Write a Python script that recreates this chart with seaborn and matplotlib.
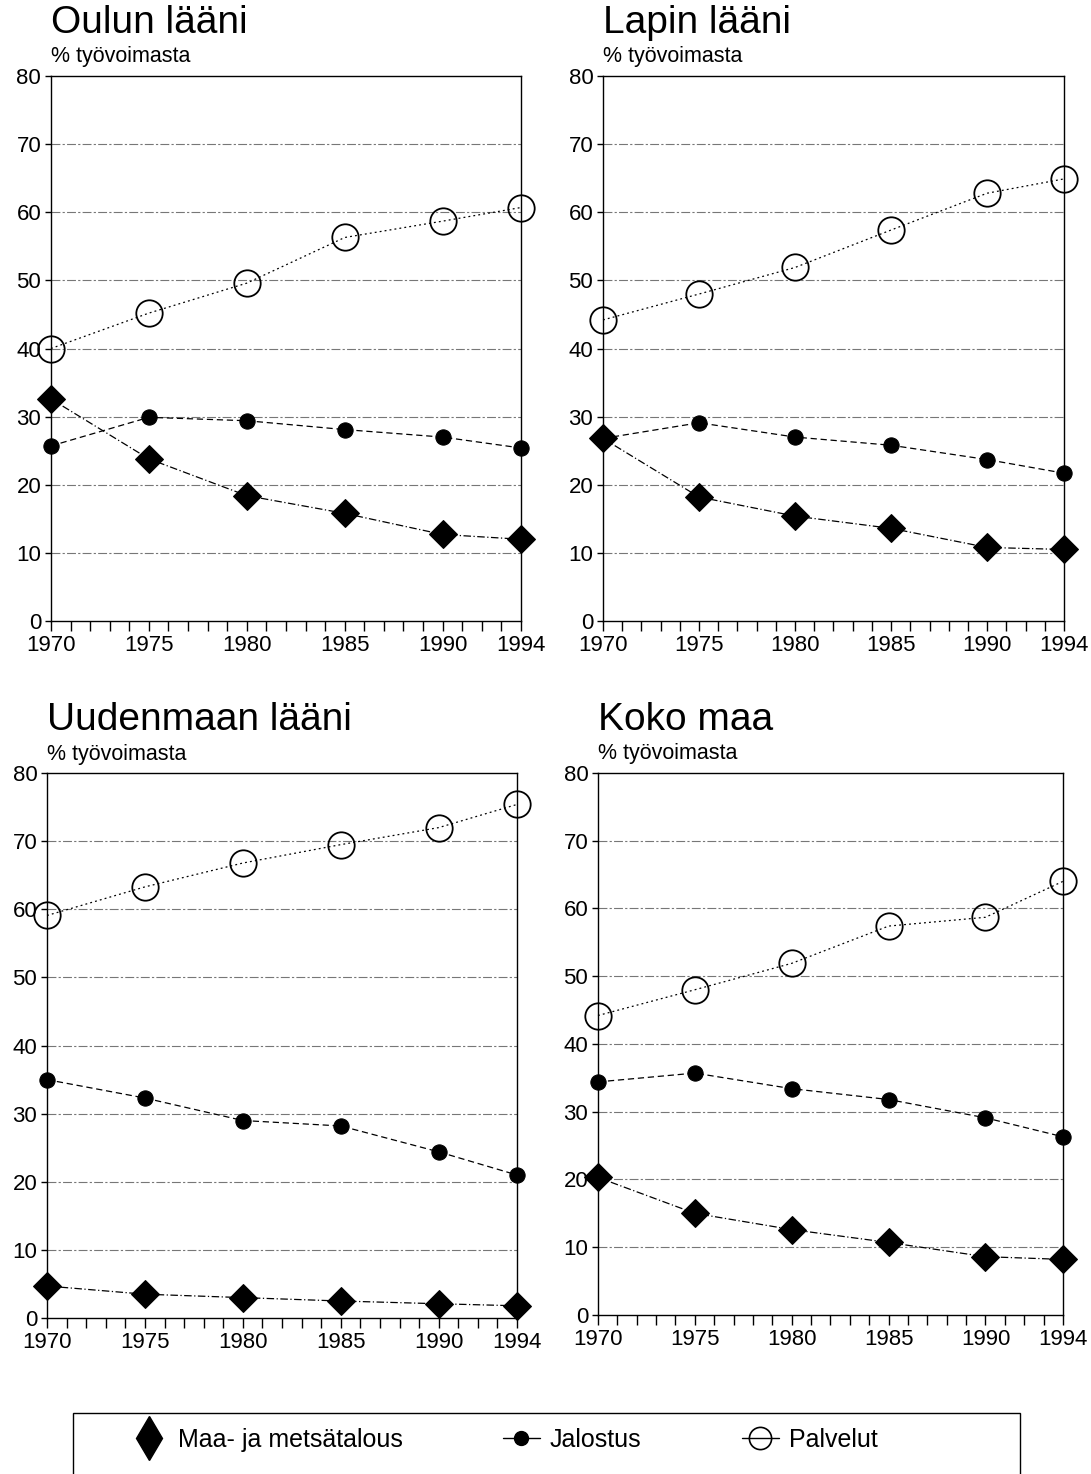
#!/usr/bin/env python3
# tyovoima_laanit.py - labour force by sector, four regions

import matplotlib
matplotlib.use('Agg')
import matplotlib.pyplot as plt
from matplotlib.lines import Line2D
from matplotlib.patches import Rectangle
import pandas as pd
import seaborn as sns

# Data =========================================================================

years = [1970, 1975, 1980, 1985, 1990, 1994]
regions = ['Oulun lääni', 'Lapin lääni', 'Uudenmaan lääni', 'Koko maa']
sectors = ['Maa- ja metsätalous', 'Jalostus', 'Palvelut']

oulu_maa = [32.6, 23.8, 18.4, 15.8, 12.7, 12.0]
oulu_jalostus = [25.7, 29.9, 29.4, 28.1, 27.0, 25.4]
oulu_palvelut = [40.0, 45.2, 49.6, 56.3, 58.7, 60.7]

lappi_maa = [26.8, 18.2, 15.4, 13.6, 10.8, 10.5]
lappi_jalostus = [26.8, 29.1, 27.0, 25.8, 23.7, 21.7]
lappi_palvelut = [44.2, 48.0, 51.9, 57.4, 62.8, 64.9]

uusimaa_maa = [4.7, 3.5, 3.0, 2.5, 2.1, 1.8]
uusimaa_jalostus = [35.0, 32.3, 29.0, 28.2, 24.4, 21.0]
uusimaa_palvelut = [59.1, 63.3, 66.8, 69.5, 72.0, 75.4]

koko_maa = [20.3, 15.0, 12.6, 10.7, 8.6, 8.2]
koko_jalostus = [34.4, 35.7, 33.4, 31.8, 29.1, 26.3]
koko_palvelut = [44.2, 48.0, 51.9, 57.4, 58.7, 64.0]

tick_labels = ['1970', '1975', '1980', '1985', '1990', '1994']

# Functions ====================================================================


def build_frame():
    series = {
        'Oulun lääni': (oulu_maa, oulu_jalostus, oulu_palvelut),
        'Lapin lääni': (lappi_maa, lappi_jalostus, lappi_palvelut),
        'Uudenmaan lääni': (uusimaa_maa, uusimaa_jalostus, uusimaa_palvelut),
        'Koko maa': (koko_maa, koko_jalostus, koko_palvelut),
    }
    rows = []
    for region, values in series.items():
        for sector, vals in zip(sectors, values):
            for year, v in zip(years, vals):
                rows.append({'Alue': region, 'Sektori': sector,
                             'Vuosi': year, 'Osuus': v})
    return pd.DataFrame(rows)


STYLES = {
    'Maa- ja metsätalous': dict(marker='D', markersize=14, linestyle=(0, (6, 2, 1, 2)),
                                markerfacecolor='black', markeredgecolor='black'),
    'Jalostus': dict(marker='o', markersize=11, linestyle=(0, (5, 3)),
                     markerfacecolor='black', markeredgecolor='black'),
    'Palvelut': dict(marker='o', markersize=19, linestyle=(0, (1.5, 2.5)),
                     markerfacecolor='none', markeredgecolor='black',
                     markeredgewidth=1.3),
}

POSITIONS = {
    'Oulun lääni': [0.0467, 0.5787, 0.4308, 0.3697],
    'Lapin lääni': [0.5527, 0.5787, 0.4225, 0.3697],
    'Uudenmaan lääni': [0.0431, 0.1058, 0.4308, 0.3697],
    'Koko maa': [0.5481, 0.1079, 0.4262, 0.3677],
}


def draw_panel(fig, df, region):
    ax = fig.add_axes(POSITIONS[region])
    sub = df[df['Alue'] == region]
    for sector in sectors:
        d = sub[sub['Sektori'] == sector]
        sns.lineplot(data=d, x='Vuosi', y='Osuus', ax=ax, color='black',
                     linewidth=0.9, clip_on=False, zorder=3, legend=False,
                     **STYLES[sector])
    ax.set_xlim(1970, 1994)
    ax.set_ylim(0, 80)
    ax.set_xticks(range(1970, 1995))
    ax.set_xticklabels([str(y) if str(y) in tick_labels else ''
                        for y in range(1970, 1995)])
    ax.set_yticks(range(0, 81, 10))
    ax.tick_params(axis='x', bottom=True, direction='out', length=7, width=1,
                   labelsize=16, pad=3, colors='black')
    ax.tick_params(axis='y', left=True, direction='out', length=4, width=1,
                   labelsize=16, pad=3, colors='black')
    ax.set_xlabel('')
    ax.set_ylabel('')
    ax.grid(False)
    for v in range(10, 80, 10):
        ax.axhline(v, color='#777777', linewidth=0.8,
                   linestyle=(0, (8, 2, 2, 2)), zorder=1)
    for s in ax.spines.values():
        s.set_color('black')
        s.set_linewidth(1.0)
        s.set_visible(True)
    ax.text(0.0, 1.098, region, transform=ax.transAxes, fontsize=28,
            ha='left', va='center', color='black')
    ax.text(0.0, 1.035, '% työvoimasta', transform=ax.transAxes,
            fontsize=15.5, ha='left', va='center', color='black')
    return ax


def main():
    sns.set_theme(style='white')
    plt.rcParams['font.family'] = ['Liberation Sans', 'DejaVu Sans']
    plt.rcParams['text.color'] = 'black'
    df = build_frame()
    fig = plt.figure(figsize=(10.91, 14.74), dpi=100)
    for region in regions:
        draw_panel(fig, df, region)

    # legend box, cut off by the bottom edge like in the original
    box = Rectangle((73 / 1091, -0.02), (1020 - 73) / 1091,
                    1 - 1413 / 1474 + 0.02, transform=fig.transFigure,
                    fill=False, edgecolor='black', linewidth=1.0,
                    clip_on=False)
    fig.patches.append(box)
    handles = [
        Line2D([], [], color='black', linewidth=0, marker='d',
               markersize=22, markerfacecolor='black'),
        Line2D([], [], color='black', linewidth=1.0, marker='o',
               markersize=10, markerfacecolor='black'),
        Line2D([], [], color='black', linewidth=1.0, marker='o',
               markersize=16, markerfacecolor='none', markeredgewidth=1.2),
    ]
    fig.legend(handles, sectors, loc='center',
               bbox_to_anchor=(0.462, 1 - 1440 / 1474), ncol=3,
               frameon=False, fontsize=18, handlelength=1.5,
               handletextpad=0.4, columnspacing=4.0)
    fig.savefig('out.png', dpi=100)


# Execute ======================================================================

if __name__ == '__main__':
    main()
